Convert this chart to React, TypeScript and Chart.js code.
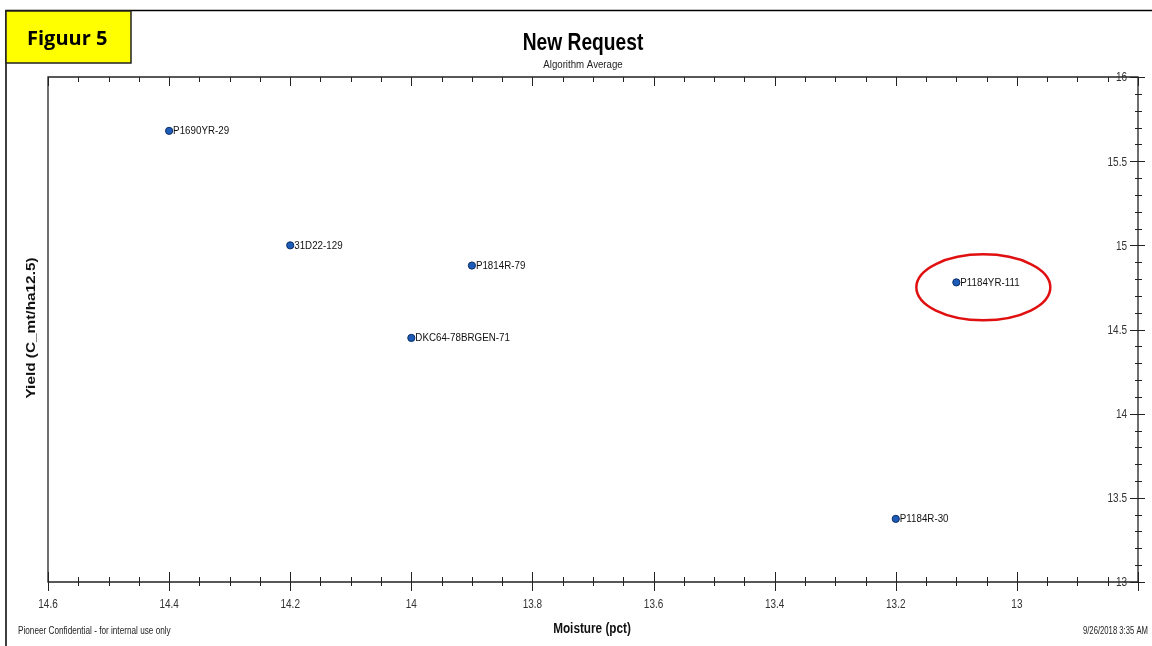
import React, { useEffect, useRef } from "react";
import { Chart, registerables } from "chart.js";

Chart.register(...registerables);

// ---- data ----
const hybrids = ["P1690YR-29", "31D22-129", "P1814R-79", "DKC64-78BRGEN-71", "P1184YR-111", "P1184R-30"];
const moisture = [14.4, 14.2, 13.9, 14.0, 13.1, 13.2];
const yieldValues = [15.68, 15.0, 14.88, 14.45, 14.78, 13.375];
const xTickValues = [14.6, 14.4, 14.2, 14.0, 13.8, 13.6, 13.4, 13.2, 13.0];
const xTickLabels = ["14.6", "14.4", "14.2", "14", "13.8", "13.6", "13.4", "13.2", "13"];
const yTickValues = [16, 15.5, 15, 14.5, 14, 13.5, 13];
const yTickLabels = ["16", "15.5", "15", "14.5", "14", "13.5", "13"];
const xMin = 12.8;
const xMax = 14.6;
const yMin = 13;
const yMax = 16;
const xMinorStep = 0.05;
const yMinorStep = 0.1;
const highlighted = "P1184YR-111";

const SANS = '"Liberation Sans", Arial, sans-serif';

function narrowText(
  ctx: CanvasRenderingContext2D,
  text: string,
  x: number,
  y: number,
  font: string,
  sx: number,
  align: CanvasTextAlign,
  baseline: CanvasTextBaseline = "alphabetic"
) {
  ctx.save();
  ctx.font = font;
  ctx.textAlign = align;
  ctx.textBaseline = baseline;
  ctx.translate(x, y);
  ctx.scale(sx, 1);
  ctx.fillText(text, 0, 0);
  ctx.restore();
}

const decorPlugin = {
  id: "decor",
  beforeDatasetsDraw(chart: any) {
    const ctx = chart.ctx as CanvasRenderingContext2D;
    const { left, right, top, bottom } = chart.chartArea;
    const xs = chart.scales.x;
    const ys = chart.scales.y;
    ctx.save();
    // outer frame
    ctx.strokeStyle = "#000";
    ctx.lineWidth = 1.5;
    ctx.beginPath();
    ctx.moveTo(6, 646);
    ctx.lineTo(6, 10.5);
    ctx.lineTo(1152, 10.5);
    ctx.stroke();

    // plot frame
    ctx.strokeStyle = "#222";
    ctx.lineWidth = 1.3;
    ctx.beginPath();
    ctx.rect(left, top, right - left, bottom - top);
    ctx.stroke();

    // x ticks (top and bottom)
    ctx.lineWidth = 1;
    ctx.beginPath();
    const nX = Math.round((xMax - xMin) / xMinorStep);
    for (let i = 0; i <= nX; i++) {
      const v = xMin + i * xMinorStep;
      const px = Math.round(xs.getPixelForValue(v)) + 0.5;
      const major = Math.abs(v * 5 - Math.round(v * 5)) < 1e-6;
      ctx.moveTo(px, top);
      ctx.lineTo(px, top + (major ? 9 : 5));
      ctx.moveTo(px, bottom - (major ? 10 : 5));
      ctx.lineTo(px, bottom + (major ? 9 : 4));
    }
    // y ticks on right (crossing)
    const nY = Math.round((yMax - yMin) / yMinorStep);
    for (let i = 0; i <= nY; i++) {
      const v = yMin + i * yMinorStep;
      const py = Math.round(ys.getPixelForValue(v)) + 0.5;
      const major = Math.abs(v * 2 - Math.round(v * 2)) < 1e-6;
      ctx.moveTo(right - (major ? 8 : 3), py);
      ctx.lineTo(right + (major ? 7 : 4), py);
    }
    ctx.stroke();

    // tick labels
    ctx.fillStyle = "#333";
    xTickValues.forEach((v, i) => {
      narrowText(ctx, xTickLabels[i], xs.getPixelForValue(v), bottom + 26, `12.5px ${SANS}`, 0.8, "center");
    });
    yTickValues.forEach((v, i) => {
      narrowText(ctx, yTickLabels[i], right - 11, ys.getPixelForValue(v) + 1, `12.5px ${SANS}`, 0.8, "right", "middle");
    });

    // yellow label box
    ctx.fillStyle = "#ffff00";
    ctx.fillRect(6, 11, 125, 52);
    ctx.strokeStyle = "#222";
    ctx.lineWidth = 1.5;
    ctx.strokeRect(6, 11, 125, 52);
    ctx.fillStyle = "#000";
    ctx.textAlign = "left";
    ctx.textBaseline = "alphabetic";
    ctx.font = `bold 20px "Open Sans", "Noto Sans", sans-serif`;
    ctx.fillText("Figuur 5", 27, 45);

    // titles
    ctx.fillStyle = "#000";
    narrowText(ctx, "New Request", 583, 50, `bold 24px ${SANS}`, 0.8, "center");
    ctx.fillStyle = "#222";
    narrowText(ctx, "Algorithm Average", 583, 68, `11px ${SANS}`, 0.88, "center");

    // axis titles
    ctx.fillStyle = "#111";
    narrowText(ctx, "Moisture (pct)", 592, 633, `bold 14px ${SANS}`, 0.84, "center");
    ctx.save();
    ctx.translate(32, 328);
    ctx.rotate(-Math.PI / 2);
    narrowText(ctx, "Yield (C_mt/ha12.5)", 0, 0, `bold 12px ${SANS}`, 1.28, "center", "middle");
    ctx.restore();

    // footer
    ctx.fillStyle = "#222";
    narrowText(ctx, "Pioneer Confidential - for internal use only", 18, 634, `10px ${SANS}`, 0.82, "left");
    narrowText(ctx, "9/26/2018 3:35 AM", 1148, 634, `10px ${SANS}`, 0.77, "right");
    ctx.restore();
  },
  afterDatasetsDraw(chart: any) {
    const ctx = chart.ctx as CanvasRenderingContext2D;
    const xs = chart.scales.x;
    const ys = chart.scales.y;
    ctx.save();
    ctx.fillStyle = "#111";
    hybrids.forEach((name, i) => {
      const px = xs.getPixelForValue(moisture[i]);
      const py = ys.getPixelForValue(yieldValues[i]);
      narrowText(ctx, name, px + 4, py, `11.5px ${SANS}`, 0.85, "left", "middle");
      if (name === highlighted) {
        ctx.strokeStyle = "#e01010";
        ctx.lineWidth = 2.5;
        ctx.beginPath();
        ctx.ellipse(px + 27, py + 5, 67, 33, 0, 0, Math.PI * 2);
        ctx.stroke();
      }
    });
    ctx.restore();
  },
};

export default function App() {
  const ref = useRef<HTMLCanvasElement | null>(null);
  useEffect(() => {
    document.body.style.margin = "0";
    if (!ref.current) return;
    const chart = new Chart(ref.current, {
      type: "scatter",
      data: {
        datasets: [
          {
            data: moisture.map((x, i) => ({ x, y: yieldValues[i] })),
            pointRadius: 3.6,
            pointBackgroundColor: "#1d5cb8",
            pointBorderColor: "#0c2d63",
            pointBorderWidth: 1,
          },
        ],
      },
      options: {
        responsive: false,
        animation: false,
        devicePixelRatio: 1,
        layout: { padding: { left: 48, top: 77, right: 14, bottom: 64 } },
        scales: {
          x: { type: "linear", reverse: true, min: xMin, max: xMax, display: false },
          y: { type: "linear", min: yMin, max: yMax, display: false },
        },
        plugins: { legend: { display: false }, tooltip: { enabled: false }, title: { display: false } },
      },
      plugins: [decorPlugin],
    });
    return () => chart.destroy();
  }, []);
  return (
    <div style={{ position: "absolute", left: 0, top: 0, width: 1152, height: 646, background: "#fff" }}>
      <canvas ref={ref} width={1152} height={646} />
    </div>
  );
}
